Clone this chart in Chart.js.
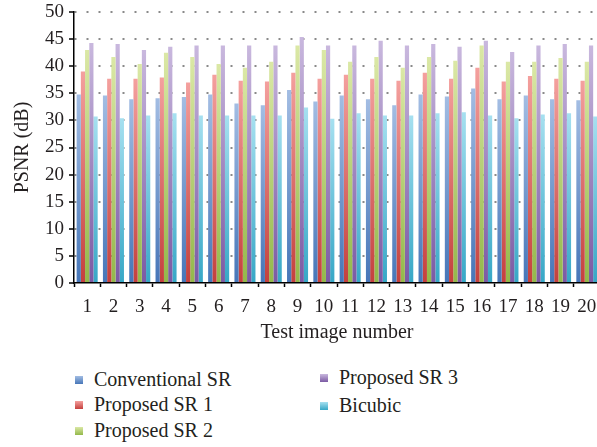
<!DOCTYPE html>
<html>
<head>
<meta charset="utf-8">
<script src="https://cdn.jsdelivr.net/npm/chart.js@4.4.0/dist/chart.umd.min.js"></script>
<style>
  html, body { margin: 0; padding: 0; background: #fff; overflow: hidden; width: 597px; height: 447px; }
  #wrap { position: absolute; left: 0; top: 0; width: 600px; height: 345px; }
  #legenda { position: absolute; left: 0; top: 0; font-family: "Liberation Serif", serif; font-size: 20px; color: #231f20; }
  .item { position: absolute; white-space: nowrap; line-height: 22px; }
  .box { position: absolute; width: 8px; height: 8px; }
</style>
</head>
<body>
<div id="wrap"><canvas id="grafico" width="600" height="345"></canvas></div>
<div id="legenda"></div>
<script>
// ======== DADOS ========
const imagens = ['1','2','3','4','5','6','7','8','9','10','11','12','13','14','15','16','17','18','19','20'];

const convencional = [34.8,34.6,33.9,34.1,34.3,34.8,33.1,32.8,35.6,33.5,34.6,33.9,32.8,34.8,34.4,35.9,33.9,34.6,33.9,33.7];
const proposto1 = [39.0,37.7,37.7,37.9,37.0,38.4,37.3,37.2,38.8,37.7,38.4,37.7,37.3,38.8,37.7,39.7,37.2,38.2,37.7,37.3];
const proposto2 = [43.0,41.7,40.4,42.5,41.7,40.4,39.7,40.8,43.8,43.0,40.8,41.7,39.7,41.7,41.0,43.8,40.8,40.8,41.5,40.8];
const proposto3 = [44.3,44.1,43.0,43.6,43.8,43.8,43.8,43.8,45.4,43.8,43.8,44.7,43.8,44.1,43.6,44.7,42.6,43.8,44.1,43.8];
const bicubico = [30.7,30.4,30.9,31.3,30.9,30.9,30.9,30.9,32.4,30.3,31.3,30.9,30.9,31.3,31.5,30.9,30.4,31.1,31.3,30.7];

const nomes = ['Conventional SR', 'Proposed SR 1', 'Proposed SR 2', 'Proposed SR 3', 'Bicubic'];
const yTicks = [0,5,10,15,20,25,30,35,40,45,50];

// cores: [claro (topo), escuro (base)]
const cores = [
  ['#a3bde3', '#4676b8'],
  ['#f4a09e', '#c4403d'],
  ['#dbe8a6', '#93b84a'],
  ['#c9b8de', '#7b5aa3'],
  ['#a6e0f0', '#36a7c6']
];

const fonte = '"Liberation Serif", "Times New Roman", serif';

// ======== GRADIENTE POR BARRA ========
function gradiente(claro, escuro) {
  return c => {
    const chart = c.chart;
    if (c.type !== 'data' || !chart.chartArea || !chart.scales.y) return escuro;
    const y = chart.scales.y;
    const topo = y.getPixelForValue(c.raw);
    const base = y.getPixelForValue(0);
    const g = chart.ctx.createLinearGradient(0, topo, 0, base);
    g.addColorStop(0, claro);
    g.addColorStop(1, escuro);
    return g;
  };
}

const series = [convencional, proposto1, proposto2, proposto3, bicubico];

const ctx = document.getElementById('grafico').getContext('2d');
const grafico = new Chart(ctx, {
  type: 'bar',
  data: {
    labels: imagens,
    datasets: series.map((s, i) => ({
      label: nomes[i],
      data: s,
      backgroundColor: gradiente(cores[i][0], cores[i][1]),
      borderWidth: 0,
      categoryPercentage: 0.8,
      barPercentage: 1.0
    }))
  },
  options: {
    responsive: false,
    animation: false,
    layout: { padding: 0 },
    plugins: { legend: { display: false }, tooltip: { enabled: false } },
    scales: {
      x: {
        grid: { drawOnChartArea: false, drawTicks: true, tickLength: 4, tickColor: '#000', tickWidth: 1.5 },
        border: { color: '#000', width: 1.5 },
        ticks: { color: '#231f20', font: { family: fonte, size: 19 }, padding: 9, maxRotation: 0, autoSkip: false },
        title: { display: true, text: 'Test image number', color: '#231f20', font: { family: fonte, size: 20 }, padding: { top: 2, bottom: 0 } },
        afterFit: s => { s.height = 345 - 283; s.paddingLeft = 0; s.paddingRight = 0; }
      },
      y: {
        min: 0,
        max: 50,
        afterBuildTicks: s => { s.ticks = yTicks.map(v => ({ value: v })); },
        grid: {
          color: c => c.tick.value === 0 ? 'rgba(0,0,0,0)' : '#8a8a8a',
          lineWidth: 2,
          tickLength: 5,
          tickColor: '#000',
          tickWidth: 1.5
        },
        border: { color: '#000', width: 1.5, dash: [2, 10] },
        ticks: { color: '#231f20', font: { family: fonte, size: 19 }, padding: 5 },
        title: { display: true, text: 'PSNR (dB)', color: '#231f20', font: { family: fonte, size: 20 }, padding: { top: 11, bottom: 0 } },
        afterFit: s => { s.width = 74; s.paddingTop = 12; s.paddingBottom = 0; }
      }
    }
  }
});

// ======== LEGENDA ========
const posLegenda = [[75, 380], [75, 405], [75, 431], [320, 378], [320, 406]];
const legenda = document.getElementById('legenda');
nomes.forEach((n, i) => {
  const [x, y] = posLegenda[i];
  const box = document.createElement('div');
  box.className = 'box';
  box.style.left = x + 'px';
  box.style.top = (y - 4) + 'px';
  box.style.background = `linear-gradient(${cores[i][0]}, ${cores[i][1]})`;
  legenda.appendChild(box);
  const item = document.createElement('div');
  item.className = 'item';
  item.style.left = (x + 19) + 'px';
  item.style.top = (y - 12) + 'px';
  item.textContent = n;
  legenda.appendChild(item);
});
</script>
</body>
</html>
